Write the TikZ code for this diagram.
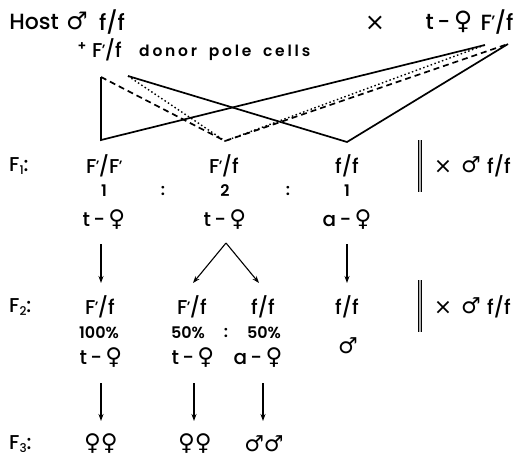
\documentclass[tikz,border=0pt]{standalone}
\usepackage{fontspec}
\setmainfont{Poppins}[UprightFont={* Medium},BoldFont={* SemiBold}]
\newfontfamily\symf{DejaVu Sans}[UprightFont={* Bold}]
\newfontfamily\symr{DejaVu Sans}
\newfontfamily\spacedf{Poppins}[UprightFont={* SemiBold},LetterSpace=18]
\usetikzlibrary{arrows.meta}
\newcommand\fem{{\symf\fontsize{1.15em}{1.2em}\selectfont\char"2640}}
\newcommand\mal{{\symf\fontsize{1.1em}{1.2em}\selectfont\char"2642}}
\newcommand\crs{{\symr\fontsize{1.1em}{1.2em}\selectfont\char"00D7}}
\newcommand\pr{\kern-0.6pt\raisebox{0.12em}{\fontsize{0.75em}{0.8em}\selectfont’}\kern-0.6pt}
\newcommand\subn[1]{{\fontsize{12}{12}\selectfont\raisebox{-3pt}{#1}}}
\begin{document}
\begin{tikzpicture}[x=1pt,y=-1pt,
 lbl/.style={font=\fontsize{20}{22}\selectfont, inner sep=0pt},
 big/.style={font=\fontsize{22}{24}\selectfont, inner sep=0pt},
 sm/.style={font=\bfseries\fontsize{16}{18}\selectfont, inner sep=0pt},
 arr/.style={-{Stealth[length=7pt,width=5pt]}, line width=1.1pt},
 ln/.style={line width=1.7pt},
 dsh/.style={line width=1.7pt, dash pattern=on 6pt off 4pt},
 dtt/.style={line width=1.4pt, dash pattern=on 1.5pt off 2.5pt},
 dbar/.style={line width=1pt, double=gray!60, double distance=1.8pt}]
\useasboundingbox (0,0) rectangle (518,460);
% top row
\node[big] (host) at (34,22) {Host};
\node[big] (hsym) at (77,21) {\mal};
\node[big] (hgen) at (112,22) {f/f};
\node[big] (cross) at (375,23) {\crs};
\node[big] (fem0) at (449,22) {t\,-\,\fem};
\node[big] (fgen) at (497,22) {F\pr/f};
\node[font=\bfseries\fontsize{13}{13}\selectfont, inner sep=0pt] (plus) at (82,47) {+};
\node[lbl] (donor) at (107,50) {F\pr/f};
\node[inner sep=0pt, anchor=west, font=\spacedf\fontsize{15.5}{18}\selectfont] (cells) at (139,53) {donor\,\, pole\,\, cells};
% crossing lines
\coordinate (C) at (101,77);
\coordinate (D) at (128,76);
\coordinate (A) at (485,45);
\coordinate (B) at (508,44);
\coordinate (V1) at (101,140);
\coordinate (V2) at (225,141);
\coordinate (V3) at (347,142);
\draw[ln] (C) -- (V1) -- (A);
\draw[dsh] (C) -- (V2) -- (B);
\draw[dtt] (D) -- (V2) -- (A);
\draw[ln] (D) -- (V3) -- (B);
% F1
\node[lbl, anchor=west] (f1) at (9,166) {F\subn{1}:};
\node[lbl] (g11) at (104,166) {F\pr/F\pr};
\node[lbl] (g12) at (224,166) {F\pr/f};
\node[lbl] (g13) at (347,166) {f/f};
\node[sm] (r11) at (104,191) {1};
\node[sm] (c11) at (163,191) {:};
\node[sm] (r12) at (225,191) {2};
\node[sm] (c12) at (288,191) {:};
\node[sm] (r13) at (347,191) {1};
\node[lbl] (p11) at (104,220) {t\,-\,\fem};
\node[lbl] (p12) at (225,220) {t\,-\,\fem};
\node[lbl] (p13) at (347,220) {a\,-\,\fem};
\coordinate (b1t) at (420,140);
\coordinate (b1b) at (420,192);
\draw[dbar] (b1t) -- (b1b);
\node[lbl] (x1a) at (443,167) {\crs};
\node[lbl] (x1b) at (471,165) {\mal};
\node[lbl] (x1c) at (499,166) {f/f};
% arrows F1 -> F2
\coordinate (a1t) at (101,244);
\coordinate (a1b) at (101,283);
\coordinate (apk) at (226,243);
\coordinate (a2b) at (193,283);
\coordinate (a3b) at (259,283);
\coordinate (a4t) at (347,244);
\coordinate (a4b) at (347,283);
\draw[arr] (a1t) -- (a1b);
\draw[arr] (apk) -- (a2b);
\draw[arr] (apk) -- (a3b);
\draw[arr] (a4t) -- (a4b);
% F2
\node[lbl, anchor=west] (f2) at (9,307) {F\subn{2}:};
\node[lbl] (g21) at (100,307) {F\pr/f};
\node[lbl] (g22) at (192,307) {F\pr/f};
\node[lbl] (g23) at (263,307) {f/f};
\node[lbl] (g24) at (347,307) {f/f};
\node[sm] (q21) at (99,333) {100\%};
\node[sm] (q22) at (188,333) {50\%};
\node[sm] (c21) at (226,333) {:};
\node[sm] (q23) at (264,333) {50\%};
\node[lbl] (p21) at (101,358) {t\,-\,\fem};
\node[lbl] (p22) at (193,358) {t\,-\,\fem};
\node[lbl] (p23) at (258,358) {a\,-\,\fem};
\node[lbl] (p24) at (348,346) {\mal};
\coordinate (b2t) at (420,280);
\coordinate (b2b) at (420,332);
\draw[dbar] (b2t) -- (b2b);
\node[lbl] (x2a) at (443,308) {\crs};
\node[lbl] (x2b) at (471,306) {\mal};
\node[lbl] (x2c) at (499,307) {f/f};
% arrows F2 -> F3
\coordinate (d1t) at (101,383);
\coordinate (d1b) at (101,421);
\coordinate (d2t) at (194,383);
\coordinate (d2b) at (194,421);
\coordinate (d3t) at (263,383);
\coordinate (d3b) at (263,421);
\draw[arr] (d1t) -- (d1b);
\draw[arr] (d2t) -- (d2b);
\draw[arr] (d3t) -- (d3b);
% F3
\node[lbl, anchor=west] (f3) at (9,444) {F\subn{3}:};
\node[lbl] (o1) at (101,444) {\fem\fem};
\node[lbl] (o2) at (195,444) {\fem\fem};
\node[lbl] (o3) at (264,444) {\mal\mal};
\end{tikzpicture}
\end{document}
